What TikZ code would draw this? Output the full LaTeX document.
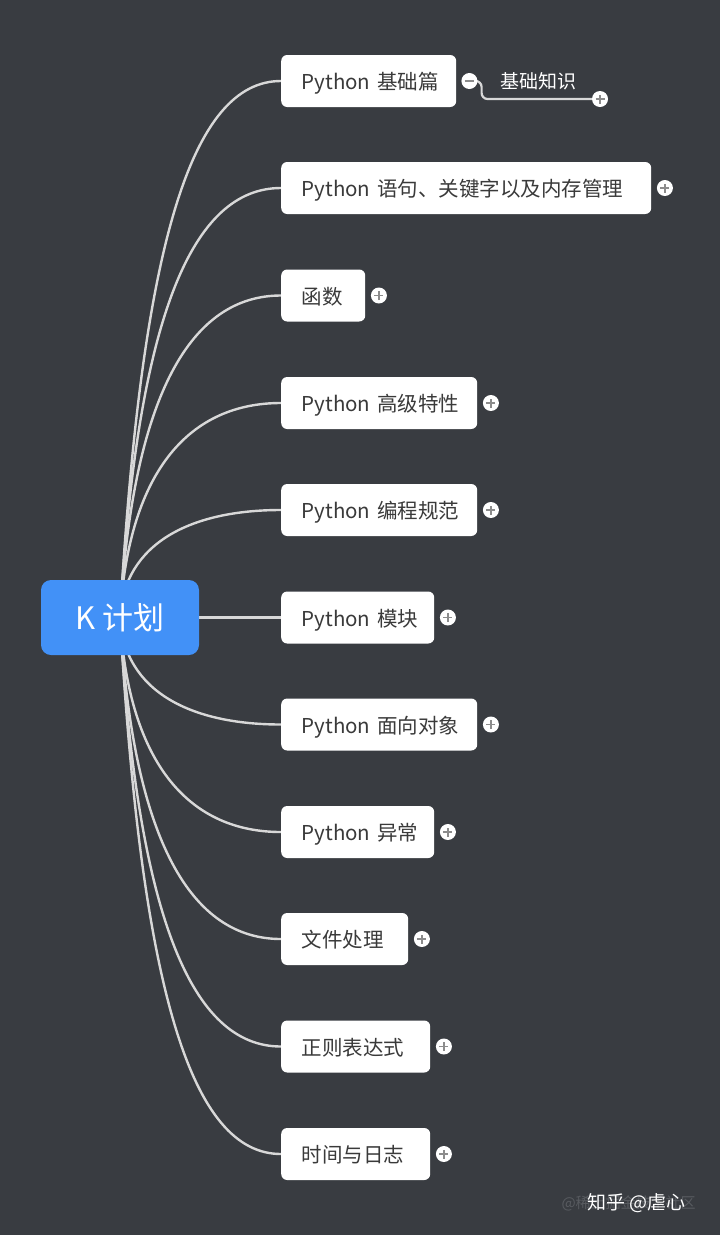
\documentclass[tikz,border=0pt]{standalone}
\usepackage{fontspec}
\setmainfont{Noto Sans CJK SC}
\usetikzlibrary{calc}
\pgfdeclarelayer{bg}
\pgfdeclarelayer{edges}
\pgfsetlayers{bg,edges,main}
\definecolor{bgc}{RGB}{57,60,65}
\definecolor{rootc}{RGB}{66,145,247}
\definecolor{txt}{RGB}{58,58,58}
\definecolor{linec}{RGB}{216,216,216}
\definecolor{signc}{RGB}{140,140,140}
\definecolor{faint}{RGB}{88,91,96}
\begin{document}
\begin{tikzpicture}[x=1pt,y=-1pt,
  topic/.style={fill=white, rounded corners=6pt, anchor=west, minimum height=52pt,
    inner xsep=20.5pt, inner ysep=0pt, text=txt, text width=#1-41pt, align=left,
    text height=17pt, text depth=0pt,
    font=\fontsize{20.5}{23}\selectfont},
  rootnode/.style={fill=rootc, rounded corners=10pt, minimum width=158pt, minimum height=75pt,
    text=white, text height=24pt, text depth=0pt, font=\fontsize{31}{34}\selectfont},
  conn/.style={draw=linec, line width=2.4pt},
  expander/.style={circle, fill=white, minimum size=16pt, inner sep=0pt},
  plusbtn/.style={expander, path picture={
    \draw[signc, line width=1.6pt]
      ([xshift=-4.5pt]path picture bounding box.center) -- ([xshift=4.5pt]path picture bounding box.center)
      ([yshift=-4.5pt]path picture bounding box.center) -- ([yshift=4.5pt]path picture bounding box.center);}},
  minusbtn/.style={expander, path picture={
    \draw[signc, line width=1.8pt]
      ([xshift=-4.5pt]path picture bounding box.center) -- ([xshift=4.5pt]path picture bounding box.center);}},
]
\useasboundingbox (0,0) rectangle (720,1235);
\begin{pgfonlayer}{bg}
  \fill[bgc] (0,0) rectangle (720,1235);
\end{pgfonlayer}

\node[rootnode] (root) at (120,617.5) {K 计划};

\node[topic=175] (t1) at (281,81) {Python~基础篇};
\node[topic=370] (t2) at (281,188) {Python~语句、关键字以及内存管理};
\node[topic=84]  (t3) at (281,295.5) {函数};
\node[topic=196] (t4) at (281,403) {Python~高级特性};
\node[topic=196] (t5) at (281,510) {Python~编程规范};
\node[topic=153] (t6) at (281,617.5) {Python~模块};
\node[topic=196] (t7) at (281,724.5) {Python~面向对象};
\node[topic=153] (t8) at (281,832) {Python~异常};
\node[topic=127] (t9) at (281,939) {文件处理};
\node[topic=149] (t10) at (281,1046.5) {正则表达式};
\node[topic=149] (t11) at (281,1154) {时间与日志};

\node[minusbtn] (m1) at ($(t1.east)+(13,0)$) {};
\node[text=white, font=\fontsize{19}{21}\selectfont] (k1) at (538,81) {基础知识};
\node[plusbtn] (p1) at (600,99) {};
\foreach \n in {2,...,11} {
  \node[plusbtn] (p\n) at ($(t\n.east)+(13.5,0)$) {};
}

\begin{pgfonlayer}{edges}
  \foreach \n/\d in {t1/-536.5,t2/-429.5,t3/-322,t4/-214.5,t5/-107.5,t7/107,t8/214.5,t9/321.5,t10/429,t11/536.5} {
    \pgfmathsetmacro\cx{0.04*abs(\d)}
    \pgfmathsetmacro\cy{0.7*\d}
    \draw[conn] (root.center) .. controls +(\cx,\cy) and +(-89,0) .. (\n.west);
  }
  \draw[conn] (root.east) -- (t6.west);
  \draw[conn, line width=2.2pt, rounded corners=6pt] (m1.east) -- ++(4,0) |- (p1.west);
\end{pgfonlayer}

\node[text=faint, font=\fontsize{15}{18}\selectfont, anchor=west] (wm0) at (558,1203) {@稀土掘金技术社区};
\node[text=white, font=\fontsize{19}{22}\selectfont, anchor=west] (wm) at (584,1203) {知乎 @虐心};
\end{tikzpicture}
\end{document}
